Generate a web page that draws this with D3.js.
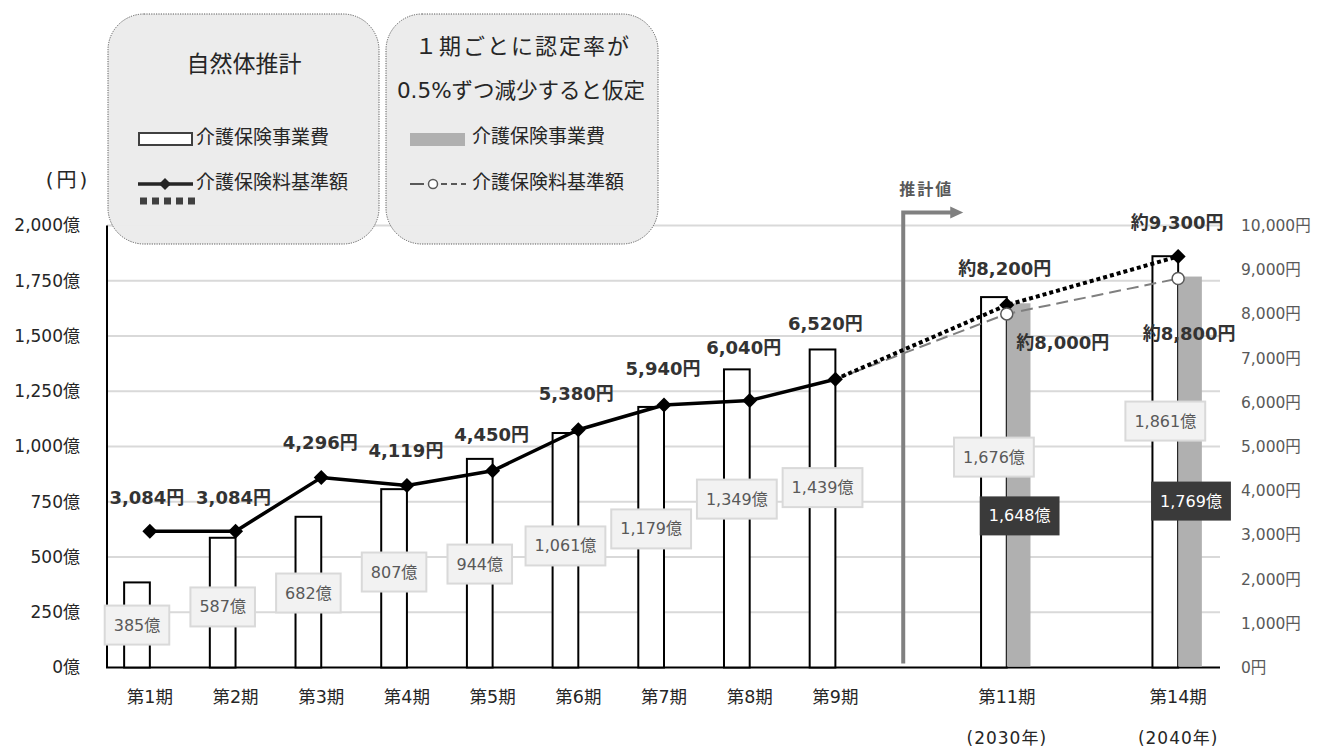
<!DOCTYPE html>
<html>
<head>
<meta charset="utf-8">
<script src="https://cdn.jsdelivr.net/npm/d3@7"></script>
<style>
  html, body { margin: 0; padding: 0; background: #fff; }
  svg { display: block; font-family: "DejaVu Sans", "Noto Sans CJK JP", sans-serif; }
</style>
</head>
<body>
<svg id="chart" width="1323" height="749"></svg>
<script>
// ---------------- data ----------------
const categories = ["第1期","第2期","第3期","第4期","第5期","第6期","第7期","第8期","第9期","第11期","第14期"];
const yearNotes  = ["","","","","","","","","","(2030年)","(2040年)"];
// slot layout of the x axis (blank slots between the actual and projected periods)
const slots = ["第1期","第2期","第3期","第4期","第5期","第6期","第7期","第8期","第9期","gap1","第11期","gap2","第14期"];
// 介護保険事業費 (億円)
const costNatural = [385,587,682,807,944,1061,1179,1349,1439,1676,1861];
const costReduced = [null,null,null,null,null,null,null,null,null,1648,1769];
// 介護保険料基準額 (円)
const premiumNatural = [3084,3084,4296,4119,4450,5380,5940,6040,6520,8200,9300];
const premiumReduced = [null,null,null,null,null,null,null,null,6520,8000,8800];
const premiumNaturalLabels = ["3,084円","3,084円","4,296円","4,119円","4,450円","5,380円","5,940円","6,040円","6,520円","約8,200円","約9,300円"];
const premiumReducedLabels = [null,null,null,null,null,null,null,null,null,"約8,000円","約8,800円"];
const leftTicks = [0,250,500,750,1000,1250,1500,1750,2000];
const rightTicks = [0,1000,2000,3000,4000,5000,6000,7000,8000,9000,10000];

// ---------------- layout (annotation placement) ----------------
const plotLeft = 107, plotRight = 1221, yBase = 667.5, yTop = 225.5;
// vertical anchor of each bar value box, in 億 units
const costLabelAnchor = [192,274,337,432,468,550,627,762,814,952,1115];
const costReducedLabelAnchor = [null,null,null,null,null,null,null,null,null,686,753];
// offsets of premium labels from their markers (px)
const premiumLabelDy = [-34,-34,-35,-35,-36,-36,-36,-53,-56,-37,-34];
const premiumLabelDx = [-3,-2,-1,-1,-1,-2,-1,-6,-10,-2,-1];

const CJK = "'Noto Sans CJK JP'";
const MIX = "'DejaVu Sans', 'Noto Sans CJK JP'";

const svg = d3.select("#chart");

const x = d3.scaleBand().domain(slots).range([plotLeft, plotRight]).paddingInner(0).paddingOuter(0);
const cx = c => x(c) + x.bandwidth() / 2;
const yL = d3.scaleLinear().domain([0, 2000]).range([yBase, yTop]);
const yR = d3.scaleLinear().domain([0, 10000]).range([yBase, yTop]);
const barW = x.bandwidth() * 0.3;

// ---------------- gridlines ----------------
svg.append("g").selectAll("line").data(leftTicks.filter(d => d > 0)).join("line")
  .attr("x1", plotLeft).attr("x2", plotRight - 1)
  .attr("y1", d => yL(d)).attr("y2", d => yL(d))
  .attr("stroke", "#d9d9d9").attr("stroke-width", 2);

// ---------------- axes ----------------
const leftAxis = d3.axisLeft(yL).tickValues(leftTicks).tickSize(0).tickPadding(0)
  .tickFormat(d => d3.format(",")(d) + "億");
const gL = svg.append("g").attr("transform", `translate(${plotLeft},0)`).call(leftAxis);
gL.select(".domain").attr("stroke", "#000").attr("stroke-width", 2)
  .attr("d", `M0,${yTop}V${yBase}`);
gL.selectAll("text").attr("x", -27).attr("fill", "#262626")
  .style("font-size", "17px").style("font-family", MIX);

const rightAxis = d3.axisRight(yR).tickValues(rightTicks).tickSize(0).tickPadding(0)
  .tickFormat(d => d3.format(",")(d) + "円");
const gR = svg.append("g").attr("transform", `translate(${plotRight},0)`).call(rightAxis);
gR.select(".domain").remove();
gR.selectAll("text").attr("x", 20).attr("fill", "#595959")
  .style("font-size", "15.5px").style("font-family", MIX);

// baseline
svg.append("line").attr("x1", plotLeft - 1).attr("x2", plotRight - 1)
  .attr("y1", yBase).attr("y2", yBase).attr("stroke", "#000").attr("stroke-width", 2);

// category labels
const bottomAxis = d3.axisBottom(x).tickSize(0).tickPadding(0)
  .tickFormat(d => categories.includes(d) ? d : "");
const gB = svg.append("g").attr("transform", `translate(0,${yBase})`).call(bottomAxis);
gB.select(".domain").remove();
gB.selectAll("text").attr("y", 23).attr("fill", "#262626")
  .style("font-size", "17.5px").style("font-family", MIX);
svg.append("g").selectAll("text").data(categories.map((c, i) => ({c, n: yearNotes[i]})).filter(d => d.n))
  .join("text")
  .attr("x", d => cx(d.c)).attr("y", yBase + 70)
  .attr("text-anchor", "middle").attr("dominant-baseline", "central")
  .attr("fill", "#262626").style("font-size", "17px").style("letter-spacing", "1px")
  .style("font-family", MIX)
  .text(d => d.n);

// (円) unit label
svg.append("text").attr("x", 68).attr("y", 180).attr("text-anchor", "middle")
  .attr("dominant-baseline", "central").attr("fill", "#262626").style("font-size", "20px")
  .style("letter-spacing", "3px").style("font-family", MIX)
  .text("(円)");

// ---------------- bars ----------------
const barData = categories.map((c, i) => ({c, i, v: costNatural[i], r: costReduced[i]}));
svg.append("g").selectAll("rect").data(barData).join("rect")
  .attr("x", d => cx(d.c) - barW).attr("width", barW)
  .attr("y", d => yL(d.v)).attr("height", d => yBase - yL(d.v))
  .attr("fill", "#fff").attr("stroke", "#000").attr("stroke-width", 2);
svg.append("g").selectAll("rect").data(barData.filter(d => d.r != null)).join("rect")
  .attr("x", d => cx(d.c)).attr("width", barW - 2)
  .attr("y", d => yL(d.r)).attr("height", d => yBase - yL(d.r) - 1)
  .attr("fill", "#b0b0b0");

// ---------------- projection arrow ----------------
const arrowX = x("gap1") + 25;
const arrowY = yTop - 13;
svg.append("path")
  .attr("d", `M${arrowX},${yBase - 4}V${arrowY}H${arrowX + 48}`)
  .attr("fill", "none").attr("stroke", "#808080").attr("stroke-width", 4);
svg.append("path")
  .attr("d", `M${arrowX + 47},${arrowY - 6}L${arrowX + 60},${arrowY}L${arrowX + 47},${arrowY + 6}Z`)
  .attr("fill", "#808080");
svg.append("text").attr("x", arrowX + 23).attr("y", arrowY - 25)
  .attr("text-anchor", "middle").attr("dominant-baseline", "central")
  .attr("fill", "#595959").style("font-size", "16px").style("font-weight", "bold")
  .style("letter-spacing", "2px").style("font-family", CJK)
  .text("推計値");

// ---------------- lines ----------------
const pts = categories.map((c, i) => ({c, i, v: premiumNatural[i], r: premiumReduced[i]}));
const line = d3.line().x(d => cx(d.c)).y(d => yR(d.val));

// reduced scenario (gray dashed)
svg.append("path")
  .datum(pts.filter(d => d.r != null).map(d => ({c: d.c, val: d.r})))
  .attr("d", line).attr("fill", "none").attr("stroke", "#7f7f7f")
  .attr("stroke-width", 2).attr("stroke-dasharray", "12,6");
// natural projection (dotted)
svg.append("path")
  .datum(pts.slice(8).map(d => ({c: d.c, val: d.v})))
  .attr("d", line).attr("fill", "none").attr("stroke", "#000")
  .attr("stroke-width", 4).attr("stroke-dasharray", "4,3");
// actual (solid)
svg.append("path")
  .datum(pts.slice(0, 9).map(d => ({c: d.c, val: d.v})))
  .attr("d", line).attr("fill", "none").attr("stroke", "#000")
  .attr("stroke-width", 3.5).attr("stroke-linejoin", "round");
// diamonds
svg.append("g").selectAll("path").data(pts).join("path")
  .attr("transform", d => `translate(${cx(d.c)},${yR(d.v)})`)
  .attr("d", "M0,-7.5L7.5,0L0,7.5L-7.5,0Z").attr("fill", "#000");
// circles
svg.append("g").selectAll("circle").data(pts.filter((d, i) => premiumReducedLabels[i])).join("circle")
  .attr("cx", d => cx(d.c)).attr("cy", d => yR(d.r)).attr("r", 6)
  .attr("fill", "#fff").attr("stroke", "#595959").attr("stroke-width", 1.5);

// ---------------- bar value boxes ----------------
function valueBox(g, cxp, cyp, txt, dark) {
  const t = g.append("text").attr("x", cxp).attr("y", cyp)
    .attr("text-anchor", "middle").attr("dominant-baseline", "central")
    .attr("fill", dark ? "#fff" : "#595959").style("font-size", "16px")
    .style("font-family", MIX).text(txt);
  const w = t.node().getComputedTextLength() + 18;
  g.insert("rect", "text").attr("x", cxp - w / 2).attr("y", cyp - 19.5).attr("width", w).attr("height", 39)
    .attr("fill", dark ? "#3a3a3a" : "#f2f2f2")
    .attr("stroke", dark ? "none" : "#d9d9d9").attr("stroke-width", 2);
}
barData.forEach((d, i) => {
  valueBox(svg.append("g"), cx(d.c) - barW / 2, yL(costLabelAnchor[i]), d3.format(",")(d.v) + "億", false);
});
barData.filter(d => d.r != null).forEach(d => {
  valueBox(svg.append("g"), cx(d.c) + barW / 2, yL(costReducedLabelAnchor[d.i]), d3.format(",")(d.r) + "億", true);
});

// ---------------- premium labels ----------------
svg.append("g").selectAll("text").data(pts).join("text")
  .attr("x", d => cx(d.c) + premiumLabelDx[d.i]).attr("y", d => yR(d.v) + premiumLabelDy[d.i])
  .attr("text-anchor", "middle").attr("dominant-baseline", "central")
  .attr("fill", "#333").style("font-size", "18px").style("font-weight", "bold")
  .style("font-family", MIX)
  .text(d => premiumNaturalLabels[d.i]);
const redOffsets = {9: [56, 29], 10: [11, 55]};
svg.append("g").selectAll("text").data(pts.filter(d => premiumReducedLabels[d.i])).join("text")
  .attr("x", d => cx(d.c) + redOffsets[d.i][0]).attr("y", d => yR(d.r) + redOffsets[d.i][1])
  .attr("text-anchor", "middle").attr("dominant-baseline", "central")
  .attr("fill", "#333").style("font-size", "18px").style("font-weight", "bold")
  .style("font-family", MIX)
  .text(d => premiumReducedLabels[d.i]);

// ---------------- legend ----------------
const lg = svg.append("g");
const boxes = [{x: 108, w: 271}, {x: 386, w: 272}];
boxes.forEach(b => {
  lg.append("rect").attr("x", b.x).attr("y", 14).attr("width", b.w).attr("height", 230)
    .attr("rx", 36).attr("ry", 36)
    .attr("fill", "#ebebeb").attr("fill-opacity", 0.96)
    .attr("stroke", "#595959").attr("stroke-width", 1).attr("stroke-dasharray", "1.2,1.2");
});
const ltxt = (xp, yp, s, size, anchor, ls) => lg.append("text").attr("x", xp).attr("y", yp)
  .attr("text-anchor", anchor || "start").attr("dominant-baseline", "central")
  .attr("fill", "#262626").style("font-size", size + "px")
  .style("letter-spacing", (ls || 0) + "px").style("font-family", MIX).text(s);
ltxt(244, 64, "自然体推計", 23, "middle");
ltxt(523, 46, "１期ごとに認定率が", 22, "middle", 2);
ltxt(521, 90, "0.5%ずつ減少すると仮定", 21.5, "middle");
// natural legend entries
lg.append("rect").attr("x", 139).attr("y", 133).attr("width", 53).attr("height", 12)
  .attr("fill", "#fff").attr("stroke", "#404040").attr("stroke-width", 2);
ltxt(196, 137, "介護保険事業費", 19);
lg.append("line").attr("x1", 138).attr("x2", 193).attr("y1", 184).attr("y2", 184)
  .attr("stroke", "#262626").attr("stroke-width", 3.5);
lg.append("path").attr("transform", "translate(165,184)").attr("d", "M0,-6L6,0L0,6L-6,0Z").attr("fill", "#262626");
ltxt(196, 182, "介護保険料基準額", 19);
lg.append("line").attr("x1", 140).attr("x2", 196).attr("y1", 201).attr("y2", 201)
  .attr("stroke", "#404040").attr("stroke-width", 7).attr("stroke-dasharray", "7,5");
// reduced legend entries
lg.append("rect").attr("x", 410).attr("y", 133).attr("width", 55).attr("height", 13).attr("fill", "#b0b0b0");
ltxt(472, 136, "介護保険事業費", 19);
lg.append("line").attr("x1", 410).attr("x2", 424).attr("y1", 184).attr("y2", 184)
  .attr("stroke", "#595959").attr("stroke-width", 2);
lg.append("circle").attr("cx", 433).attr("cy", 184).attr("r", 4.5)
  .attr("fill", "#fff").attr("stroke", "#595959").attr("stroke-width", 1.5);
lg.append("line").attr("x1", 441).attr("x2", 466).attr("y1", 184).attr("y2", 184)
  .attr("stroke", "#595959").attr("stroke-width", 2).attr("stroke-dasharray", "6,4");
ltxt(472, 182, "介護保険料基準額", 19);
</script>
</body>
</html>
